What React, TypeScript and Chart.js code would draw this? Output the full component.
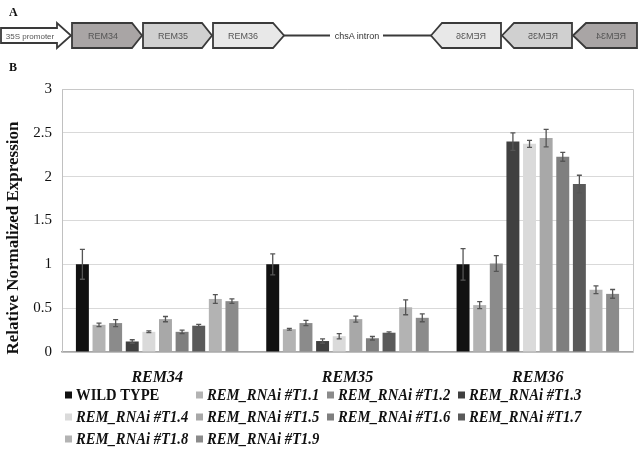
import React, { useEffect, useRef } from "react";
import { Chart, registerables } from "chart.js";

Chart.register(...registerables);

const categories = ["REM34", "REM35", "REM36"];
const seriesNames = [
  "WILD TYPE",
  "REM_RNAi #T1.1",
  "REM_RNAi #T1.2",
  "REM_RNAi #T1.3",
  "REM_RNAi #T1.4",
  "REM_RNAi #T1.5",
  "REM_RNAi #T1.6",
  "REM_RNAi #T1.7",
  "REM_RNAi #T1.8",
  "REM_RNAi #T1.9",
];
const seriesColors = [
  "#111111",
  "#b3b3b3",
  "#8b8b8b",
  "#404040",
  "#dadada",
  "#a8a8a8",
  "#7f7f7f",
  "#5a5a5a",
  "#b3b3b3",
  "#8b8b8b",
];
// values per category, in series order
const rem34Values = [1.0, 0.31, 0.33, 0.12, 0.23, 0.375, 0.23, 0.3, 0.605, 0.58];
const rem35Values = [1.0, 0.26, 0.33, 0.125, 0.18, 0.375, 0.157, 0.22, 0.51, 0.39];
const rem36Values = [1.0, 0.535, 1.01, 2.4, 2.375, 2.44, 2.226, 1.916, 0.71, 0.663];
const rem34Errors = [0.17, 0.02, 0.04, 0.02, 0.01, 0.03, 0.02, 0.015, 0.05, 0.025];
const rem35Errors = [0.12, 0.01, 0.03, 0.025, 0.03, 0.035, 0.02, 0.01, 0.085, 0.045];
const rem36Errors = [0.18, 0.04, 0.09, 0.1, 0.04, 0.1, 0.05, 0.1, 0.045, 0.05];
const yTickValues = [0, 0.5, 1, 1.5, 2, 2.5, 3];

const SERIF = '"Liberation Serif", "Times New Roman", serif';
const SANS = '"Liberation Sans", Arial, sans-serif';

const valuesByCat = [rem34Values, rem35Values, rem36Values];
const errorsByCat = [rem34Errors, rem35Errors, rem36Errors];

const errorBarPlugin = {
  id: "errorBars",
  afterDatasetsDraw(chart: any) {
    const ctx = chart.ctx;
    const yScale = chart.scales.y;
    ctx.save();
    ctx.strokeStyle = "#555555";
    ctx.lineWidth = 1.3;
    chart.data.datasets.forEach((ds: any, di: number) => {
      const meta = chart.getDatasetMeta(di);
      meta.data.forEach((el: any, i: number) => {
        const v = ds.data[i];
        const e = ds.errors[i];
        const x = el.x;
        const yt = yScale.getPixelForValue(v + e);
        const yb = yScale.getPixelForValue(v - e);
        ctx.beginPath();
        ctx.moveTo(x, yt);
        ctx.lineTo(x, yb);
        ctx.moveTo(x - 2.5, yt);
        ctx.lineTo(x + 2.5, yt);
        ctx.moveTo(x - 2.5, yb);
        ctx.lineTo(x + 2.5, yb);
        ctx.stroke();
      });
    });
    ctx.restore();
  },
};

const framePlugin = {
  id: "frameAndLegend",
  afterDraw(chart: any) {
    const ctx = chart.ctx;
    const a = chart.chartArea;
    ctx.save();
    // top and right frame
    ctx.strokeStyle = "#c8c8c8";
    ctx.lineWidth = 1;
    ctx.beginPath();
    ctx.moveTo(a.left, a.top + 0.5);
    ctx.lineTo(a.right + 0.5, a.top + 0.5);
    ctx.lineTo(a.right + 0.5, a.bottom);
    ctx.stroke();

    // y title
    ctx.fillStyle = "#111111";
    ctx.font = `bold 17px ${SERIF}`;
    ctx.textAlign = "center";
    ctx.textBaseline = "middle";
    ctx.translate(14, 238);
    ctx.rotate(-Math.PI / 2);
    ctx.fillText("Relative Normalized Expression", 0, 0);
    ctx.setTransform(1, 0, 0, 1, 0, 0);

    // legend
    const colX = [65, 196, 327, 458];
    const rowY = [395, 417, 439];
    seriesNames.forEach((name, i) => {
      const r = Math.floor(i / 4);
      const c = i % 4;
      const x = colX[c];
      const y = rowY[r];
      ctx.fillStyle = seriesColors[i];
      ctx.fillRect(x, y - 3.5, 7, 7);
      ctx.fillStyle = "#111111";
      ctx.font = i === 0 ? `bold 16px ${SERIF}` : `bold italic 16px ${SERIF}`;
      ctx.textAlign = "left";
      ctx.textBaseline = "middle";
      const w = ctx.measureText(name).width * 0.915;
      ctx.fillText(name, x + 11, y + 1, w);
    });
    ctx.restore();
  },
};

function ConstructDiagram() {
  const stroke = "#3a3a3a";
  const txt = { fontFamily: SANS, fontSize: 9, fill: "#555" } as any;
  return (
    <svg
      width={644}
      height={80}
      style={{ position: "absolute", left: 0, top: 0, pointerEvents: "none" }}
    >
      <text x={9} y={16} style={{ fontFamily: SERIF, fontWeight: "bold", fontSize: 12 }} fill="#111">
        A
      </text>
      <text x={9} y={71} style={{ fontFamily: SERIF, fontWeight: "bold", fontSize: 12 }} fill="#111">
        B
      </text>
      <polygon
        points="1,28 57,28 57,23 71,35.5 57,48 57,43 1,43"
        fill="#ffffff"
        stroke={stroke}
        strokeWidth={1.8}
      />
      <text x={30} y={38.5} textAnchor="middle" style={{ ...txt, fontSize: 8 }}>
        35S promoter
      </text>
      <polygon points="72,23 132,23 142,35.5 132,48 72,48" fill="#a9a5a5" stroke={stroke} strokeWidth={1.8} />
      <text x={103} y={39} textAnchor="middle" style={txt}>REM34</text>
      <polygon points="143,23 202,23 212,35.5 202,48 143,48" fill="#d0d0d0" stroke={stroke} strokeWidth={1.8} />
      <text x={173} y={39} textAnchor="middle" style={txt}>REM35</text>
      <polygon points="213,23 273,23 284,35.5 273,48 213,48" fill="#e8e8e8" stroke={stroke} strokeWidth={1.8} />
      <text x={243} y={39} textAnchor="middle" style={txt}>REM36</text>
      <line x1={284} y1={35.5} x2={330} y2={35.5} stroke={stroke} strokeWidth={1.8} />
      <text x={357} y={39} textAnchor="middle" style={{ ...txt, fill: "#333" }}>chsA intron</text>
      <line x1={383} y1={35.5} x2={431} y2={35.5} stroke={stroke} strokeWidth={1.8} />
      <polygon points="431,35.5 442,23 501,23 501,48 442,48" fill="#e8e8e8" stroke={stroke} strokeWidth={1.8} />
      <text x={-471} y={39} textAnchor="middle" transform="scale(-1,1)" style={txt}>REM36</text>
      <polygon points="502,35.5 514,23 572,23 572,48 514,48" fill="#d0d0d0" stroke={stroke} strokeWidth={1.8} />
      <text x={-543} y={39} textAnchor="middle" transform="scale(-1,1)" style={txt}>REM35</text>
      <polygon points="573,35.5 586,23 637,23 637,48 586,48" fill="#a9a5a5" stroke={stroke} strokeWidth={1.8} />
      <text x={-611} y={39} textAnchor="middle" transform="scale(-1,1)" style={txt}>REM34</text>
    </svg>
  );
}

export default function App() {
  const canvasRef = useRef<HTMLCanvasElement | null>(null);

  useEffect(() => {
    if (!canvasRef.current) return;
    const datasets = seriesNames.map((name, si) => ({
      label: name,
      data: categories.map((_, ci) => valuesByCat[ci][si]),
      errors: categories.map((_, ci) => errorsByCat[ci][si]),
      backgroundColor: seriesColors[si],
      borderWidth: 0,
      barPercentage: 0.78,
      categoryPercentage: 0.873,
    }));
    const chart = new Chart(canvasRef.current, {
      type: "bar",
      data: { labels: categories, datasets: datasets as any },
      options: {
        animation: false,
        responsive: false,
        devicePixelRatio: 1,
        layout: { padding: { left: 0, right: 11, top: 89, bottom: 0 } },
        plugins: { legend: { display: false }, tooltip: { enabled: false } },
        scales: {
          x: {
            grid: { display: false, drawTicks: false },
            border: { color: "#a6a6a6", width: 1.5 },
            ticks: {
              padding: 16,
              color: "#111111",
              font: { family: SERIF, size: 16, weight: "bold", style: "italic" },
            },
            afterFit(scale: any) {
              scale.height = 102;
            },
          },
          y: {
            min: 0,
            max: 3,
            afterBuildTicks(scale: any) {
              scale.ticks = yTickValues.map((v) => ({ value: v }));
            },
            grid: { color: "#d9d9d9", lineWidth: 1, drawTicks: false },
            border: { color: "#c0c0c0", width: 1 },
            ticks: {
              padding: 10,
              color: "#111111",
              font: { family: SERIF, size: 15 },
              callback: (v: any) => String(v),
            },
            afterFit(scale: any) {
              scale.width = 62;
            },
          },
        },
      },
      plugins: [errorBarPlugin, framePlugin],
    });
    return () => chart.destroy();
  }, []);

  return (
    <div
      style={{
        position: "fixed",
        left: 0,
        top: 0,
        width: 644,
        height: 454,
        background: "#ffffff",
        overflow: "hidden",
      }}
    >
      <canvas ref={canvasRef} width={644} height={454} style={{ position: "absolute", left: 0, top: 0 }} />
      <ConstructDiagram />
    </div>
  );
}
